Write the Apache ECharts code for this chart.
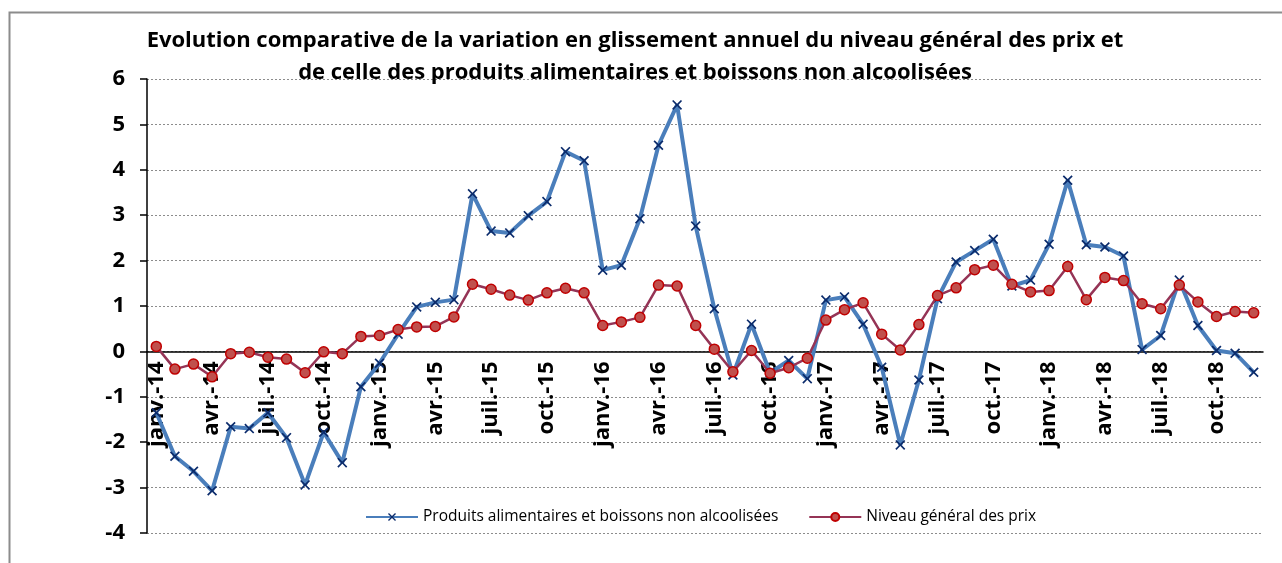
<!DOCTYPE html>
<html>
<head>
<meta charset="utf-8">
<script src="https://cdn.jsdelivr.net/npm/echarts@6/dist/echarts.min.js"></script>
<style>
html,body{margin:0;padding:0;background:#fff;}
#c{width:1282px;height:563px;}
</style>
</head>
<body>
<div id="c"></div>
<script>
const months = ["janv.","févr.","mars","avr.","mai","juin","juil.","août","sept.","oct.","nov.","déc."];
const years = ["14","15","16","17","18"];
const categories = [];
years.forEach(y => months.forEach(m => categories.push(m + "-" + y)));

const alimentaires = [
  -1.35, -2.31, -2.64, -3.07, -1.66, -1.70, -1.35, -1.90, -2.94, -1.78, -2.45, -0.78,
  -0.26, 0.38, 0.98, 1.08, 1.14, 3.47, 2.65, 2.61, 2.99, 3.30, 4.40, 4.20,
  1.79, 1.90, 2.92, 4.54, 5.43, 2.76, 0.94, -0.52, 0.60, -0.47, -0.20, -0.60,
  1.13, 1.20, 0.60, -0.35, -2.06, -0.63, 1.16, 1.97, 2.22, 2.47, 1.44, 1.57,
  2.36, 3.77, 2.35, 2.30, 2.10, 0.04, 0.35, 1.57, 0.57, 0.02, -0.04, -0.46
];
const general = [
  0.11, -0.39, -0.28, -0.56, -0.05, -0.02, -0.13, -0.17, -0.47, -0.01, -0.05, 0.33,
  0.35, 0.48, 0.54, 0.55, 0.76, 1.48, 1.37, 1.24, 1.13, 1.29, 1.39, 1.29,
  0.57, 0.65, 0.75, 1.46, 1.44, 0.57, 0.05, -0.45, 0.02, -0.48, -0.36, -0.15,
  0.69, 0.92, 1.07, 0.38, 0.03, 0.59, 1.23, 1.40, 1.80, 1.90, 1.48, 1.31,
  1.34, 1.87, 1.14, 1.63, 1.56, 1.05, 0.94, 1.46, 1.09, 0.77, 0.88, 0.85
];
const yMin = -4, yMax = 6, yStep = 1;
const seriesNames = ["Produits alimentaires et boissons non alcoolisées", "Niveau général des prix"];
const titleLines = ["Evolution comparative de la variation en glissement annuel du niveau général des prix et",
                    "de celle des produits alimentaires et boissons non alcoolisées"];

const xSym = 'path://M0,1.2 L1.2,0 L5,3.8 L8.8,0 L10,1.2 L6.2,5 L10,8.8 L8.8,10 L5,6.2 L1.2,10 L0,8.8 L3.8,5 Z';
const FONT = '"Open Sans", sans-serif';

const W = 1282, H = 563;
const gridTop = 79, gridBottom = 30, gridLeft = 147, gridRight = 19;
const gridH = H - gridTop - gridBottom;
const zeroOffset = -((0 - yMin) / (yMax - yMin)) * gridH;

const chart = echarts.init(document.getElementById('c'));
chart.setOption({
  animation: false,
  backgroundColor: '#ffffff',
  graphic: [
    {
      type: 'rect', left: 7, top: 10, z: -10,
      shape: {x: 0, y: 0, width: 1400, height: 700},
      style: {fill: 'none', stroke: '#8c8c8c', lineWidth: 2}
    },
    {
      type: 'text', x: 635, y: 41, z: 100,
      style: {text: titleLines[0], align: 'center', verticalAlign: 'middle',
              font: 'bold 22px "Open Sans", sans-serif', fill: '#000'}
    },
    {
      type: 'text', x: 635, y: 73, z: 100,
      style: {text: titleLines[1], align: 'center', verticalAlign: 'middle',
              font: 'bold 22px "Open Sans", sans-serif', fill: '#000'}
    }
  ],
  legend: {
    left: 360, top: 504,
    itemWidth: 52, itemHeight: 10, itemGap: 30,
    textStyle: {fontFamily: FONT, fontSize: 15.5, color: '#000'},
    data: seriesNames
  },
  grid: {left: gridLeft, right: gridRight, top: gridTop, bottom: gridBottom, containLabel: false, outerBoundsMode: 'none'},
  xAxis: {
    type: 'category',
    data: categories,
    boundaryGap: true,
    position: 'bottom',
    offset: zeroOffset,
    axisLine: {onZero: false, lineStyle: {color: '#000', width: 1.5}},
    axisTick: {show: false},
    axisLabel: {interval: 2, rotate: 90, margin: 10, fontFamily: FONT, fontSize: 22, fontWeight: 'bold', color: '#000'},
    splitLine: {show: false}
  },
  yAxis: {
    type: 'value', min: yMin, max: yMax, interval: yStep,
    axisLine: {show: true, onZero: false, lineStyle: {color: '#000', width: 1.5}},
    axisTick: {show: true, inside: false, length: 7, lineStyle: {color: '#000', width: 1.5}},
    axisLabel: {margin: 22, fontFamily: FONT, fontSize: 22, fontWeight: 'bold', color: '#000'},
    splitLine: {show: true, lineStyle: {color: '#8c8c8c', type: [2, 2], width: 1}}
  },
  series: [
    {
      name: seriesNames[0], type: 'line', data: alimentaires,
      symbol: xSym, symbolSize: 10, showAllSymbol: true,
      lineStyle: {color: '#4a7ebb', width: 4},
      itemStyle: {color: '#0b2b6b', borderWidth: 0},
      z: 2
    },
    {
      name: seriesNames[1], type: 'line', data: general,
      symbol: 'circle', symbolSize: 10, showAllSymbol: true,
      lineStyle: {color: '#953456', width: 2.5},
      itemStyle: {color: '#c0504d', borderColor: '#c00000', borderWidth: 1.5},
      z: 3
    }
  ]
});
</script>
</body>
</html>
